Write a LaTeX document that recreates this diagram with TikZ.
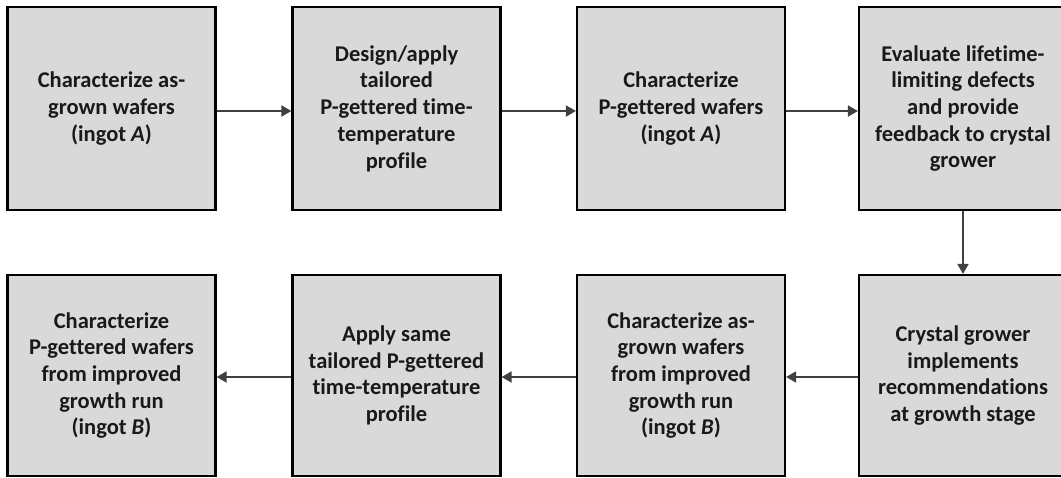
\documentclass[tikz,border=0pt]{standalone}
\usepackage{fontspec}
\setmainfont{Carlito}[Ligatures=CommonOff]
\usetikzlibrary{arrows.meta}
\definecolor{boxfill}{HTML}{D9D9D9}
\definecolor{arrowgray}{HTML}{404040}
\tikzset{
  procbox/.style={draw=black, line width=2.2pt, fill=boxfill, minimum width=208pt,
    inner sep=0pt, align=center, text=black!90,
    font=\fontsize{22.5}{26.7}\selectfont\bfseries},
  toprow/.style={procbox, minimum height=203pt},
  botrow/.style={procbox, minimum height=201pt},
  flow/.style={draw=arrowgray, line width=1.8pt, -{Triangle[length=10pt,width=11pt]}}
}
\begin{document}
\begin{tikzpicture}[x=1pt,y=-1pt]
\useasboundingbox (0,0) rectangle (1061,477);
\fill[white] (0,0) rectangle (1061,477);
\begin{scope}
\clip (0,0) rectangle (1061,477);
\node[toprow] (b1) at (111.5,108.5) {Characterize as-\\grown wafers\\(ingot \textit{A})};
\node[toprow] (b2) at (396.5,108.5) {Design/apply\\tailored\\P-gettered time-\\temperature\\profile};
\node[toprow] (b3) at (681,108.5) {Characterize\\P-gettered wafers\\(ingot \textit{A})};
\node[toprow] (b4) at (963,108.5) {Evaluate lifetime-\\limiting defects\\and provide\\feedback to crystal\\grower};
\node[botrow] (b8) at (963,375.5) {Crystal grower\\implements\\recommendations\\at growth stage};
\node[botrow] (b7) at (681,375.5) {Characterize as-\\grown wafers\\from improved\\growth run\\(ingot \textit{B})};
\node[botrow] (b6) at (396.5,375.5) {Apply same\\tailored P-gettered\\time-temperature\\profile};
\node[botrow] (b5) at (111.5,375.5) {Characterize\\P-gettered wafers\\from improved\\growth run\\(ingot \textit{B})};
\draw[flow] ([yshift=-2.5pt]b1.east) -- ([yshift=-2.5pt]b2.west);
\draw[flow] ([yshift=-2.5pt]b2.east) -- ([yshift=-2.5pt]b3.west);
\draw[flow] ([yshift=-2.5pt]b3.east) -- ([yshift=-2.5pt]b4.west);
\draw[flow] (b4.south) -- (b8.north);
\draw[flow] ([yshift=-1.5pt]b8.west) -- ([yshift=-1.5pt]b7.east);
\draw[flow] ([yshift=-1.5pt]b7.west) -- ([yshift=-1.5pt]b6.east);
\draw[flow] ([yshift=-1.5pt]b6.west) -- ([yshift=-1.5pt]b5.east);
\end{scope}
\end{tikzpicture}
\end{document}
